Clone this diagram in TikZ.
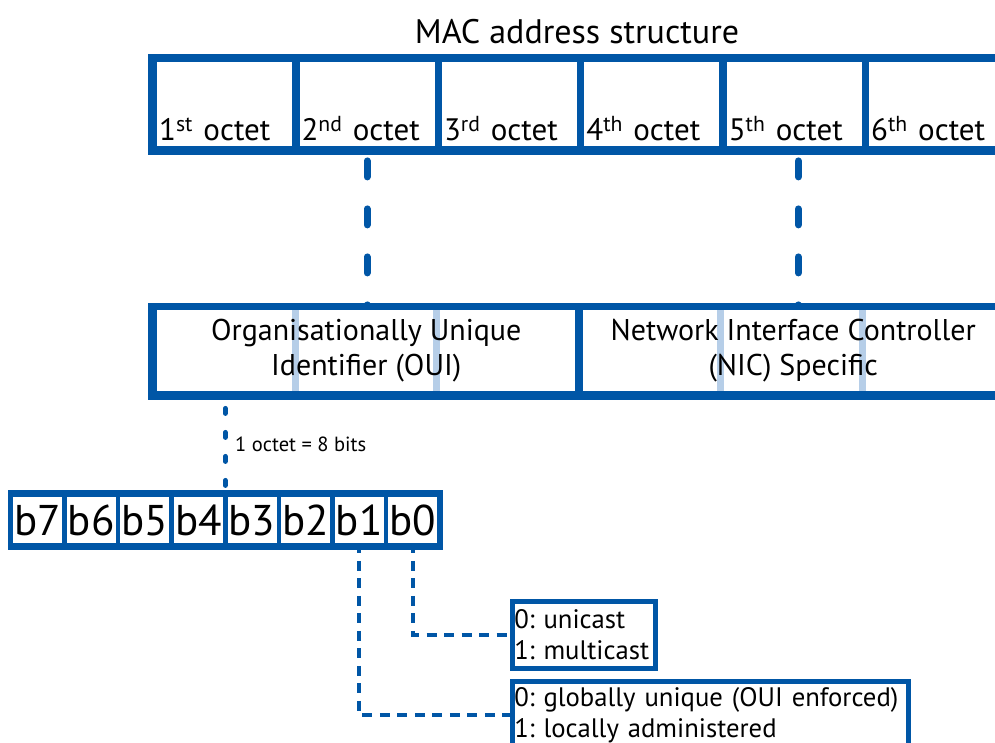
\documentclass[tikz,border=0pt]{standalone}
\usepackage{fontspec}
\setmainfont{PT Sans}
\frenchspacing
\hyphenpenalty=10000
\usetikzlibrary{positioning,calc,backgrounds}

\definecolor{macblue}{RGB}{0,86,166}
\definecolor{macpale}{RGB}{182,206,232}

\tikzset{
  octet/.style={fill=white,anchor=north west,inner xsep=2pt,inner ysep=2pt,
    text width=131pt,align=left,text height=76pt,text depth=4pt,
    font=\fontsize{31}{31}\selectfont},
  part/.style={fill=white,anchor=north west,inner sep=0pt,minimum height=81pt,
    align=center,font=\fontsize{30}{35}\selectfont},
  bit/.style={fill=white,anchor=north west,inner sep=0pt,minimum width=49pt,
    minimum height=46pt,font=\fontsize{43}{43}\selectfont},
  callout/.style={draw=macblue,line width=4.5pt,fill=white,anchor=north west,
    inner xsep=2pt,align=left,font=\fontsize{26.7}{31.5}\selectfont},
  octlink/.style={macblue,line width=7pt,line cap=round,dash pattern=on 16pt off 32pt},
  bitslink/.style={macblue,line width=5pt,line cap=round,dash pattern=on 5pt off 19pt,dash phase=7pt},
  flaglink/.style={macblue,line width=4pt,dash pattern=on 10pt off 7.5pt}
}

\begin{document}
\begin{tikzpicture}[x=1pt,y=-1pt]
\useasboundingbox (0,0) rectangle (995,742);
\clip (0,0) rectangle (995,742);

\node[font=\fontsize{34}{34}\selectfont] (title) at (577,32) {MAC address structure};

% the six octets
\fill[macblue] (148,54) rectangle (1010,155);
\foreach \i/\suf in {1/st,2/nd,3/rd,4/th,5/th,6/th} {
    \pgfmathsetmacro{\ox}{157+142.4*(\i-1)}
    \node[octet] (o\i) at (\ox,62) {\i\textsuperscript{\suf} octet};
}

% OUI and NIC halves
\fill[macblue] (148,303) rectangle (1010,400);
\node[part,minimum width=418pt] (oui) at (157,310) {Organisationally Unique\\Identifier (OUI)};
\node[part,minimum width=420pt] (nic) at (583,310) {Network Interface Controller\\(NIC) Specific};
% octet borders showing through
\foreach \sx in {292,433,717,859}
    \fill[macpale,blend mode=multiply] (\sx,310) rectangle (\sx+7,391);

% bits of one octet
\fill[macblue] (8,490) rectangle (443,550);
\foreach \k/\b in {0/7,1/6,2/5,3/4,4/3,5/2,6/1,7/0} {
    \pgfmathsetmacro{\bx}{13+53.6*\k}
    \node[bit] (b\b) at (\bx,497) {b\b};
}

% flag boxes
\node[callout,text width=139pt,minimum height=67pt] (cast) at (510,599) {0: unicast\\1: multicast};
\node[callout,text width=392pt,minimum height=68pt] (admin) at (510,679) {0: globally unique (OUI enforced)\\1: locally administered};

% connectors
\coordinate (gap) at ($(b4.north east)!.5!(b3.north west)$);
\begin{pgfonlayer}{background}
\draw[octlink] ([yshift=-14.5pt]o2.south) -- (o2.south |- oui.north);
\draw[octlink] ([xshift=4pt,yshift=-14.5pt]o5.south) -- ([xshift=4pt]o5.south |- oui.north);
\draw[bitslink] (gap |- oui.south) -- (gap)
    node[pos=.5,right=4pt,text=black,font=\fontsize{20.5}{20.5}\selectfont] (bitsnote) {1 octet = 8 bits};
\end{pgfonlayer}
\draw[flaglink] (b0.south) |- (cast.west);
\draw[flaglink] (b1.south) |- (admin.west);

\end{tikzpicture}
\end{document}
